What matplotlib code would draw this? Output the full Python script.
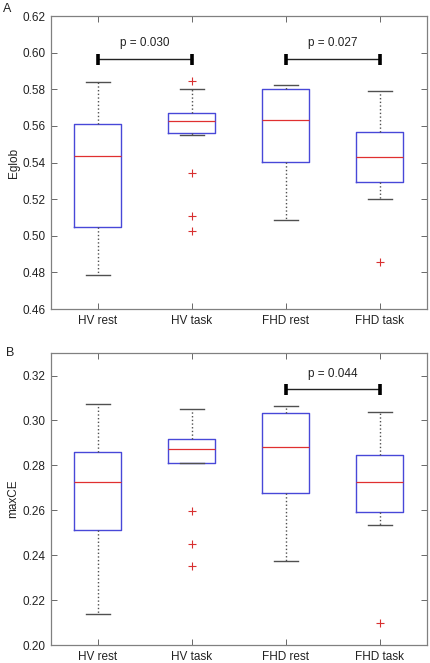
import matplotlib
matplotlib.use("Agg")
import matplotlib.pyplot as plt

plt.rcParams['font.family'] = ['Liberation Sans', 'DejaVu Sans']

groups = ["HV rest", "HV task", "FHD rest", "FHD task"]

# Panel A: Eglob
eglob_whislo = [0.4784, 0.5551, 0.5087, 0.5200]
eglob_q1     = [0.5047, 0.5560, 0.5405, 0.5296]
eglob_med    = [0.5433, 0.5625, 0.5633, 0.5429]
eglob_q3     = [0.5611, 0.5669, 0.5800, 0.5569]
eglob_whishi = [0.5842, 0.5804, 0.5824, 0.5791]
eglob_fliers = [[], [0.5845, 0.5342, 0.5110, 0.5027], [], [0.4855]]

# Panel B: maxCE
maxce_whislo = [0.2137, 0.2809, 0.2376, 0.2533]
maxce_q1     = [0.2511, 0.2809, 0.2676, 0.2591]
maxce_med    = [0.2725, 0.2872, 0.2881, 0.2725]
maxce_q3     = [0.2861, 0.2919, 0.3031, 0.2848]
maxce_whishi = [0.3071, 0.3049, 0.3063, 0.3037]
maxce_fliers = [[], [0.2596, 0.2452, 0.2353], [], [0.2097]]

# significance annotations: (x1, x2, bar y, label)
sig_a = [(1, 2, 0.5967, "p = 0.030"), (3, 4, 0.5967, "p = 0.027")]
sig_b = [(3, 4, 0.3139, "p = 0.044")]

fig = plt.figure(figsize=(4.31, 6.63), dpi=100)
axA = fig.add_axes([0.1183, 0.5339, 0.8724, 0.4419])
axB = fig.add_axes([0.1183, 0.0271, 0.8724, 0.4404])

BOX = '#4848d8'
MED = '#e03030'
FLI = '#d83030'
WHI = '#505050'
SPINE = '#808080'


def draw(ax, lo, q1, med, q3, hi, fl, ylim, yticks, ylabel, sig, cap_h, txt_off):
    stats = []
    for i in range(len(groups)):
        stats.append(dict(whislo=lo[i], q1=q1[i], med=med[i], q3=q3[i],
                          whishi=hi[i], fliers=fl[i], label=groups[i]))
    ax.bxp(stats, positions=[1, 2, 3, 4], widths=0.5, showfliers=True,
           boxprops=dict(color=BOX, linewidth=1.0),
           medianprops=dict(color=MED, linewidth=0.9),
           whiskerprops=dict(color=WHI, linewidth=1.0, linestyle=':'),
           capprops=dict(color=WHI, linewidth=1.0),
           capwidths=0.25,
           flierprops=dict(marker='+', markeredgecolor=FLI, markersize=5.5,
                           markeredgewidth=0.8, linestyle='none'))
    ax.set_xlim(0.5, 4.5)
    ax.set_ylim(*ylim)
    ax.set_yticks(yticks)
    ax.set_yticklabels([f"{t:.2f}" for t in yticks])
    ax.set_xticks([1, 2, 3, 4])
    ax.set_xticklabels(groups)
    ax.tick_params(direction='in', length=4, width=0.6, color='#505050',
                   labelsize=8.5, top=True, right=True, labelcolor='#222222',
                   pad=4)
    for s in ax.spines.values():
        s.set_color(SPINE)
        s.set_linewidth(0.9)
    ax.set_ylabel(ylabel, fontsize=8.5, color='#222222', labelpad=2)
    for x1, x2, y, lab in sig:
        ax.plot([x1, x2], [y, y], color='#222222', linewidth=1.0)
        for x in (x1, x2):
            ax.plot([x, x], [y - cap_h * 0.55, y + cap_h * 0.45],
                    color='black', linewidth=2.6, solid_capstyle='butt')
        ax.text((x1 + x2) / 2, y + txt_off, lab, ha='center', va='center',
                fontsize=8.5, color='#222222')


draw(axA, eglob_whislo, eglob_q1, eglob_med, eglob_q3, eglob_whishi, eglob_fliers,
     (0.46, 0.62), [0.46 + 0.02 * k for k in range(9)], "Eglob", sig_a, 0.0060, 0.0084)
draw(axB, maxce_whislo, maxce_q1, maxce_med, maxce_q3, maxce_whishi, maxce_fliers,
     (0.20, 0.33), [0.20 + 0.02 * k for k in range(7)], "maxCE", sig_b, 0.0049, 0.0067)

fig.text(7 / 431, 1 - 9 / 663, "A", fontsize=9, ha='center', va='center', color='#222222')
fig.text(10 / 431, 1 - 353 / 663, "B", fontsize=9, ha='center', va='center', color='#222222')

fig.savefig("out.png", dpi=100)
